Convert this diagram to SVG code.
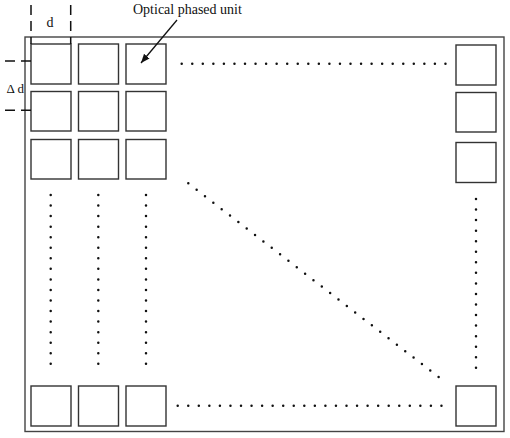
<svg xmlns="http://www.w3.org/2000/svg" width="510" height="438" viewBox="0 0 510 438">
<style>
.u{fill:#fff;stroke:#333;stroke-width:1.4}
.dot{fill:none;stroke:#111;stroke-width:2.5;stroke-linecap:round;stroke-dasharray:0 10.55}
.dash{fill:none;stroke:#111;stroke-width:1.5;stroke-dasharray:10 6}
.t{font-family:"Liberation Serif","Times New Roman",serif;fill:#111}
</style>
<defs>
<marker id="ah" viewBox="0 0 10 10" refX="10" refY="5" markerWidth="9" markerHeight="9" markerUnits="userSpaceOnUse" orient="auto">
<path d="M0,1 L10,5 L0,9 z" fill="#111"/>
</marker>
</defs>
<rect id="frame" x="25" y="37" width="479" height="394.5" fill="none" stroke="#444" stroke-width="1.4"/>
<g id="units">
<rect id="u11" class="u" x="31" y="44" width="40" height="40"/>
<rect id="u12" class="u" x="78.5" y="44" width="40" height="40"/>
<rect id="u13" class="u" x="126" y="44" width="40" height="40"/>
<rect id="u21" class="u" x="31" y="91.5" width="40" height="39.5"/>
<rect id="u22" class="u" x="78.5" y="91.5" width="40" height="39.5"/>
<rect id="u23" class="u" x="126" y="91.5" width="40" height="39.5"/>
<rect id="u31" class="u" x="31" y="139.5" width="40" height="39.5"/>
<rect id="u32" class="u" x="78.5" y="139.5" width="40" height="39.5"/>
<rect id="u33" class="u" x="126" y="139.5" width="40" height="39.5"/>
<rect id="r1" class="u" x="456" y="45" width="40" height="40"/>
<rect id="r2" class="u" x="456" y="92.5" width="40" height="39.5"/>
<rect id="r3" class="u" x="456" y="142.5" width="40" height="40"/>
<rect id="b1" class="u" x="31" y="386" width="40" height="40"/>
<rect id="b2" class="u" x="78.5" y="386" width="40" height="40"/>
<rect id="b3" class="u" x="126" y="386" width="40" height="40"/>
<rect id="b4" class="u" x="456" y="386" width="40" height="40"/>
</g>
<g id="connectors">
<line class="dot" x1="181.7" y1="63.7" x2="446.5" y2="63.7"/>
<line class="dot" x1="177.7" y1="405.7" x2="442.5" y2="405.7"/>
<line class="dot" x1="50.7" y1="195" x2="50.7" y2="364"/>
<line class="dot" x1="98.3" y1="195" x2="98.3" y2="364"/>
<line class="dot" x1="146" y1="195" x2="146" y2="364"/>
<line class="dot" x1="476" y1="199" x2="476" y2="368"/>
<line class="dot" x1="188.3" y1="183.3" x2="439.4" y2="377.6"/>
<line class="dash" x1="31" y1="5" x2="31" y2="44"/>
<line class="dash" x1="70.7" y1="5" x2="70.7" y2="44"/>
<line class="dash" x1="31" y1="61" x2="3" y2="61"/>
<line class="dash" x1="31" y1="110.3" x2="3" y2="110.3"/>
<line x1="177" y1="20" x2="141" y2="63" stroke="#111" stroke-width="1.3" marker-end="url(#ah)"/>
</g>
<text class="t" x="50" y="27" font-size="14" text-anchor="middle">d</text>
<text class="t" x="6.5" y="93" font-size="13">Δ d</text>
<text class="t" x="133" y="14" font-size="14">Optical phased unit</text>
</svg>
